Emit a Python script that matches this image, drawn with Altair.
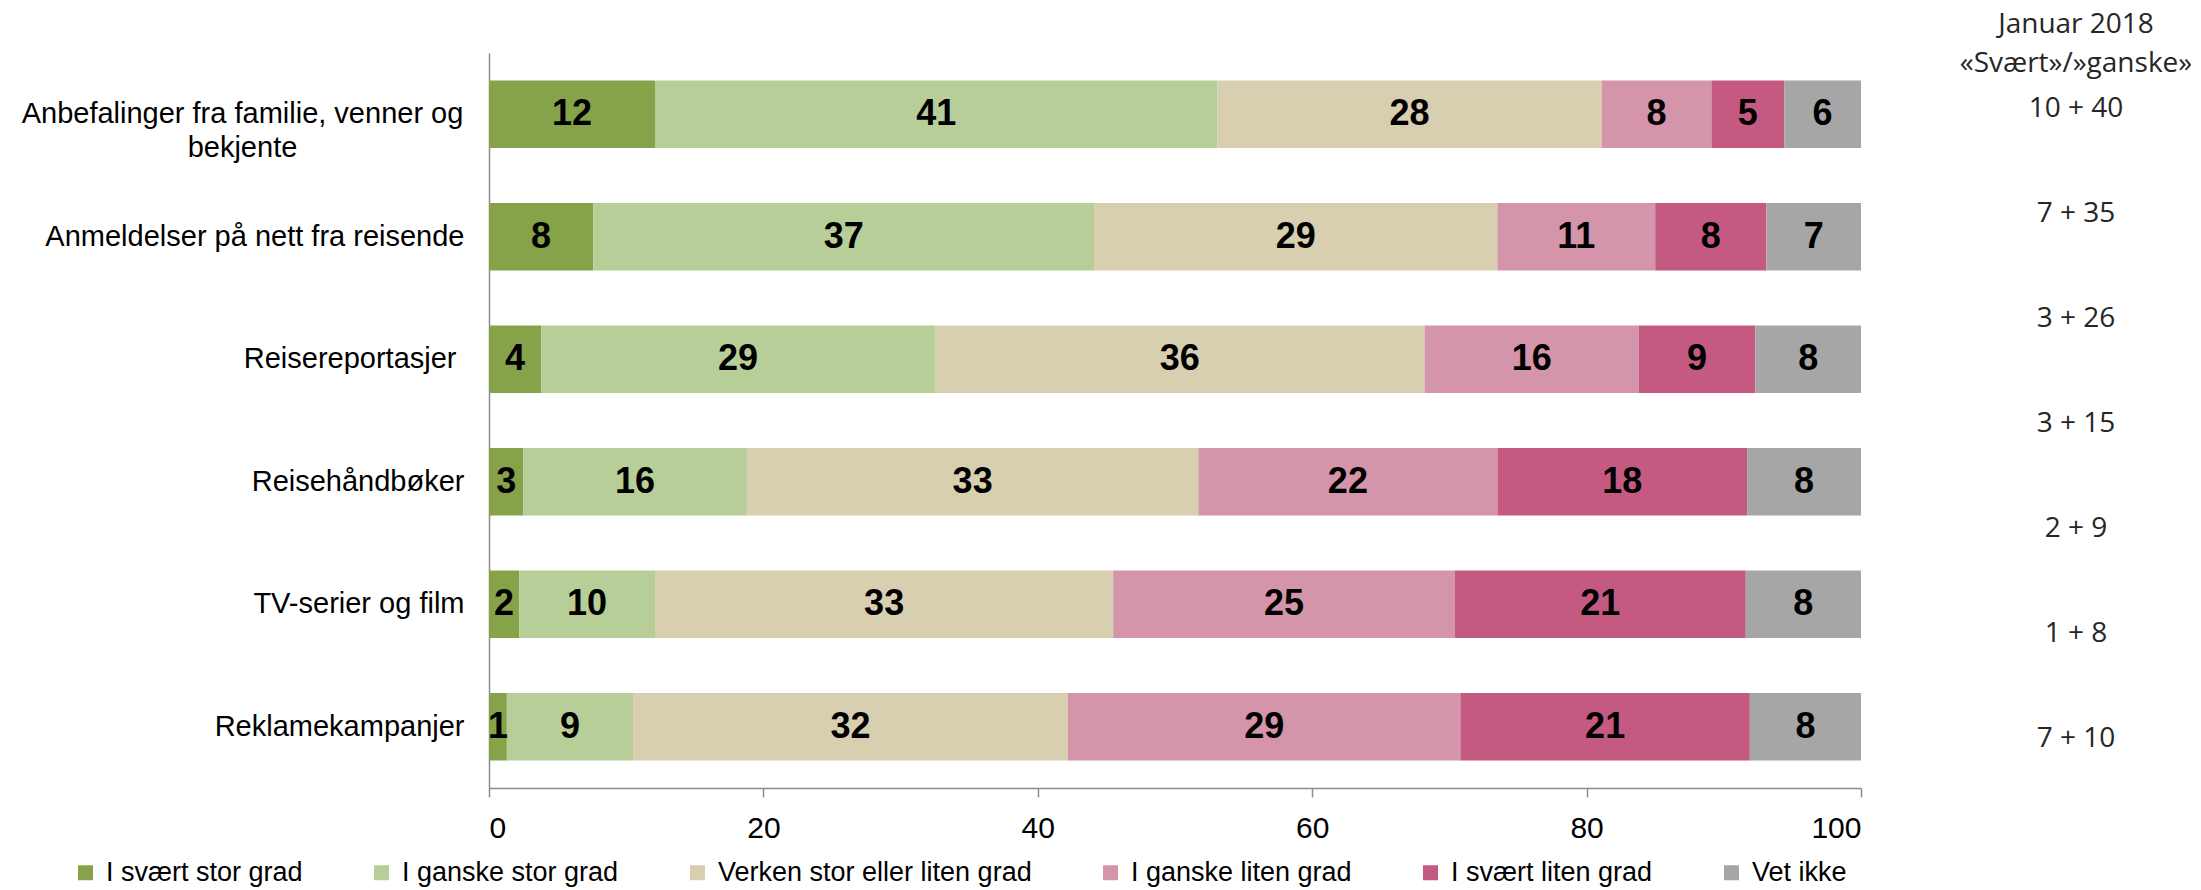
import altair as alt
import pandas as pd

categories = [
    "Anbefalinger fra familie, venner og bekjente",
    "Anmeldelser på nett fra reisende",
    "Reisereportasjer",
    "Reisehåndbøker",
    "TV-serier og film",
    "Reklamekampanjer",
]
levels = [
    "I svært stor grad",
    "I ganske stor grad",
    "Verken stor eller liten grad",
    "I ganske liten grad",
    "I svært liten grad",
    "Vet ikke",
]
colors = ["#87A34A", "#B8CE98", "#D8CEB0", "#D494AA", "#C45A82", "#A6A6A6"]

# bar lengths (percent), one list per answer level, in category order
svaert_stor = [12.1, 7.6, 3.8, 2.5, 2.2, 1.3]
ganske_stor = [41.0, 36.5, 28.7, 16.3, 9.9, 9.2]
verken = [28.0, 29.4, 35.7, 32.9, 33.4, 31.7]
ganske_liten = [8.0, 11.5, 15.6, 21.8, 24.9, 28.6]
svaert_liten = [5.3, 8.1, 8.5, 18.2, 21.2, 21.1]
vet_ikke = [5.6, 6.9, 7.7, 8.3, 8.4, 8.1]

# printed numbers inside the bars
lbl_svaert_stor = [12, 8, 4, 3, 2, 1]
lbl_ganske_stor = [41, 37, 29, 16, 10, 9]
lbl_verken = [28, 29, 36, 33, 33, 32]
lbl_ganske_liten = [8, 11, 16, 22, 25, 29]
lbl_svaert_liten = [5, 8, 9, 18, 21, 21]
lbl_vet_ikke = [6, 7, 8, 8, 8, 8]

januar_header = ["Januar 2018", "«Svært»/»ganske»"]
januar_values = ["10 + 40", "7 + 35", "3 + 26", "3 + 15", "2 + 9", "1 + 8", "7 + 10"]

series = [svaert_stor, ganske_stor, verken, ganske_liten, svaert_liten, vet_ikke]
labels = [lbl_svaert_stor, lbl_ganske_stor, lbl_verken, lbl_ganske_liten, lbl_svaert_liten, lbl_vet_ikke]

rows = []
for k, (lev, vals, lbls) in enumerate(zip(levels, series, labels)):
    for cat, v, l in zip(categories, vals, lbls):
        rows.append({"category": cat, "level": lev, "k": k, "value": v, "label": str(l)})
df = pd.DataFrame(rows)

FONT = "Liberation Sans"

first = categories[0]
label_expr = (
    "datum.value == '" + first + "' ? ['Anbefalinger fra familie, venner og', 'bekjente'] : datum.label"
)
align_cond = {
    "condition": {"test": "datum.value == '" + first + "'", "value": "center"},
    "value": "right",
}
pad_cond = {
    "condition": [
        {"test": "datum.value == '" + first + "'", "value": 247},
        {"test": "datum.value == 'Reisereportasjer'", "value": 33},
    ],
    "value": 25,
}

base = alt.Chart(df).transform_stack(
    stack="value",
    groupby=["category"],
    as_=["x0", "x1"],
    sort=[alt.SortField("k", order="ascending")],
).transform_calculate(mid="(datum.x0 + datum.x1) / 2")

yenc = alt.Y(
    "category:N",
    sort=categories,
    scale=alt.Scale(paddingInner=0.45, paddingOuter=0.225),
    axis=alt.Axis(
        title=None,
        ticks=False,
        labelPadding=pad_cond,
        labelAlign=align_cond,
        labelFontSize=29,
        labelLineHeight=34,
        labelLimit=0,
        labelExpr=label_expr,
    ),
)

bars = base.mark_bar().encode(
    y=yenc,
    x=alt.X(
        "x0:Q",
        scale=alt.Scale(domain=[0, 100], nice=False),
        axis=alt.Axis(
            title=None,
            values=[0, 20, 40, 60, 80, 100],
            tickSize=9,
            labelPadding=16,
            labelFontSize=30,
        ),
    ),
    x2="x1:Q",
    color=alt.Color(
        "level:N",
        scale=alt.Scale(domain=levels, range=colors),
        legend=alt.Legend(
            orient="none",
            legendX=-417,
            legendY=806,
            direction="horizontal",
            columns=6,
            title=None,
            symbolType="square",
            symbolSize=225,
            symbolStrokeWidth=0,
            labelFont=FONT,
            labelFontSize=27,
            labelColor="black",
            columnPadding=65,
            labelOffset=7,
            labelLimit=0,
        ),
    ),
)

text = base.mark_text(
    font=FONT, fontWeight="bold", fontSize=36, color="black", baseline="middle", align="center"
).encode(
    y=alt.Y("category:N", sort=categories),
    x=alt.X("mid:Q"),
    text="label:N",
)

jan_df = pd.DataFrame({"idx": list(range(len(januar_values))), "txt": januar_values})
jan = alt.Chart(jan_df).mark_text(
    font="Open Sans", fontSize=28, align="center", baseline="alphabetic", color="#262626"
).encode(
    x=alt.value(1587),
    y=alt.Y("idx:Q", scale=alt.Scale(domain=[0, 6], range=[64, 694]), axis=None),
    text="txt:N",
)

h1 = alt.Chart(pd.DataFrame({"t": [januar_header[0]]})).mark_text(
    font="Open Sans", fontSize=28, align="center", baseline="alphabetic", color="#262626"
).encode(x=alt.value(1587), y=alt.value(-20), text="t:N")
h2 = alt.Chart(pd.DataFrame({"t": [januar_header[1]]})).mark_text(
    font="Open Sans", fontSize=28, align="center", baseline="alphabetic", color="#262626"
).encode(x=alt.value(1587), y=alt.value(19), text="t:N")

main = alt.layer(bars, text)

chart = (
    alt.layer(main, jan, h1, h2)
    .resolve_scale(y="independent")
    .properties(
        width=1372,
        height=735,
        padding={"left": 481, "top": 45, "right": 330, "bottom": 102},
        autosize=alt.AutoSizeParams(type="none"),
    )
    .configure_view(stroke=None)
    .configure_axis(
        grid=False,
        domainColor="#8c8c8c",
        domainWidth=1.5,
        tickColor="#8c8c8c",
        tickWidth=1.5,
        labelFont=FONT,
        labelColor="black",
    )
)

chart.save("out.html", embed_options={"renderer": "svg", "actions": False})
